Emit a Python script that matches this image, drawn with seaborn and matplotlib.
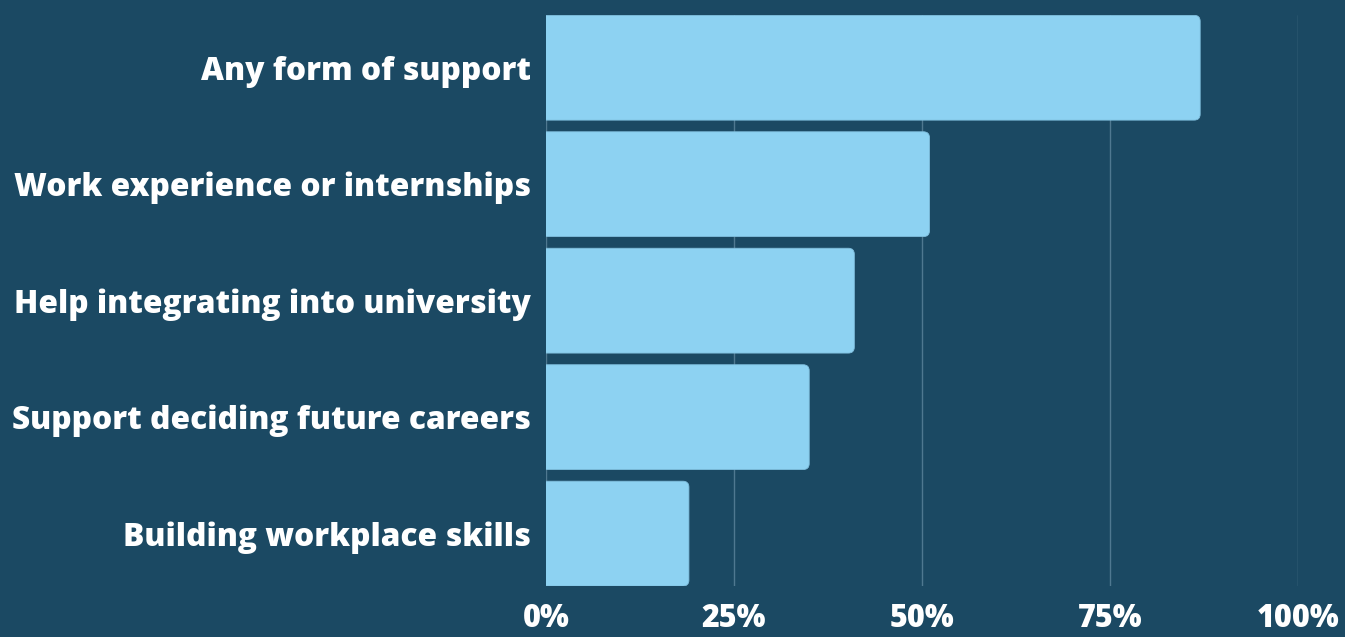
import matplotlib
matplotlib.use("Agg")
import matplotlib.pyplot as plt
from matplotlib.patches import FancyBboxPatch
from matplotlib.ticker import FuncFormatter
import seaborn as sns
import pandas as pd

# Survey results: share of respondents wanting each kind of support
categories = [
    "Any form of support",
    "Work experience or internships",
    "Help integrating into university",
    "Support deciding future careers",
    "Building workplace skills",
]
shares = [87, 51, 41, 35, 19]
ticks = [0, 25, 50, 75, 100]

BG = "#1b4963"
BAR = "#8dd2f2"
GRID = "#4f7890"

sns.set_theme(style="white")
plt.rcParams["font.family"] = ["Open Sans", "DejaVu Sans"]

df = pd.DataFrame({"category": categories, "share": shares})

fig = plt.figure(figsize=(13.45, 6.37), dpi=100, facecolor=BG)
ax = fig.add_axes([0.406, 0.080, 0.559, 0.896])
ax.set_facecolor(BG)

sns.barplot(data=df, x="share", y="category", orient="h", color=BAR,
            saturation=1, width=0.9, ax=ax, zorder=3)

ax.set_xlim(0, 100)
ax.set_ylim(len(categories) - 0.55, -0.45)

# Replace the plain rectangles with bars rounded at the value end
rad_x = 0.8            # corner radius in percent units
aspect = (6 / 116.5) / rad_x
for p in list(ax.patches):
    x0, y0, w, h = p.get_x(), p.get_y(), p.get_width(), p.get_height()
    rounded = FancyBboxPatch(
        (x0 - 2 * rad_x, y0), w + 2 * rad_x, h,
        boxstyle=f"round,pad=0,rounding_size={rad_x}",
        mutation_aspect=aspect,
        facecolor=BAR, edgecolor="#7fbedd", linewidth=0.6,
        zorder=3, clip_on=True)
    p.remove()
    ax.add_patch(rounded)

ax.set_xticks(ticks)
ax.xaxis.set_major_formatter(FuncFormatter(lambda v, _: f"{v:.0f}%"))
ax.grid(axis="x", color=GRID, linewidth=1.0, zorder=0)
ax.grid(axis="y", visible=False)
for s in ax.spines.values():
    s.set_visible(False)

ax.tick_params(axis="x", length=0, pad=12, labelsize=22, labelcolor="white")
ax.tick_params(axis="y", length=0, pad=11, labelsize=22.8, labelcolor="white")
for lab in ax.get_xticklabels() + ax.get_yticklabels():
    lab.set_fontweight(800)
for lab in ax.get_xticklabels():
    lab.set_clip_on(False)
ax.set_xlabel("")
ax.set_ylabel("")

fig.savefig("out.png", dpi=100, facecolor=BG)
